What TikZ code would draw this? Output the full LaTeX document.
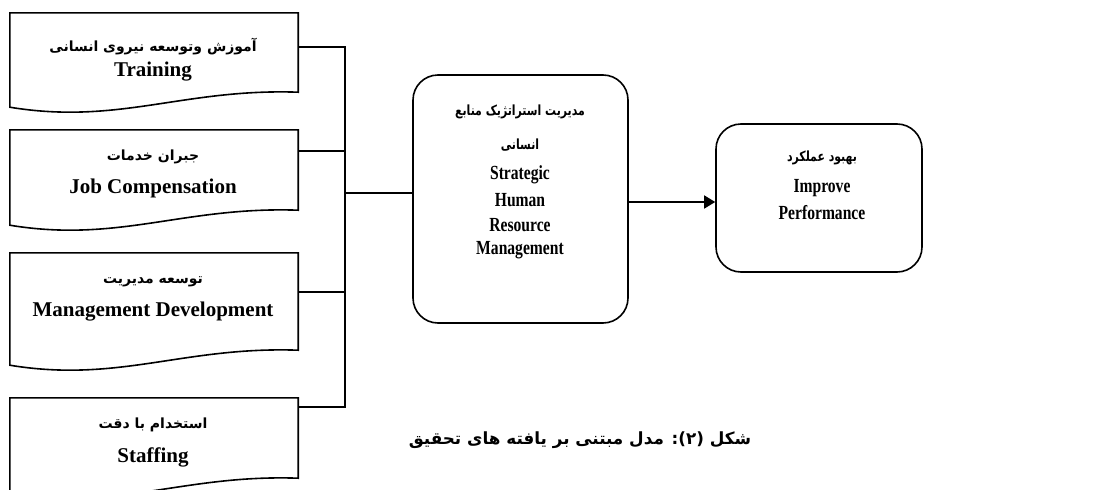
\documentclass[tikz,border=0pt]{standalone}
\usepackage{fontspec}
\setmainfont{Liberation Serif}
\newfontfamily\fafont[Script=Arabic]{DejaVu Sans}
\TeXXeTstate=1
\usetikzlibrary{arrows.meta}
\newcommand\squeezed[1]{\scalebox{0.78}[1]{#1}}
\begin{document}
\begin{tikzpicture}[x=1pt,y=-1pt,
  line/.style={line width=1.6pt, line join=miter},
  arrowline/.style={line width=1.6pt, -{Triangle[length=11pt,width=13pt]}},
  docnode/.style={minimum width=288pt, inner sep=0pt, draw=none},
  rbox/.style={draw, line width=1.6pt, rounded corners=25pt, inner sep=0pt},
  fa/.style={font=\fafont\bfseries\fontsize{14}{17}\selectfont, inner sep=0pt},
  en/.style={font=\bfseries\fontsize{21}{25}\selectfont, inner sep=0pt},
  ensq/.style={font=\bfseries\fontsize{20}{24}\selectfont, inner sep=0pt},
  captext/.style={font=\fafont\bfseries\fontsize{16.8}{20}\selectfont, inner sep=0pt}]
\useasboundingbox (0,0) rectangle (1104,490);

% document-shaped boxes
\foreach \n/\t/\r in {b1/13/92, b2/130/210, b3/253/350, b4/398/478}{
  \node[docnode, minimum height=\r-\t] (\n) at (154,{(\t+\r)/2}) {};
}
\foreach \n in {b1,b2,b3,b4}{
  \draw[line] ([yshift=-15pt]\n.south west) -- (\n.north west) -- (\n.north east) -- (\n.south east)
    .. controls ([shift={(-115pt,4pt)}]\n.south east) and ([shift={(109pt,-33pt)}]\n.south west) .. cycle;
}

% box texts
\node[fa] (f1) at (153,47) {\beginR آموزش وتوسعه نیروی انسانی\endR};
\node[en] (e1) at (153,72) {Training};
\node[fa] (f2) at (153,157) {\beginR جبران خدمات\endR};
\node[en] (e2) at (153,188) {Job Compensation};
\node[fa] (f3) at (153,282) {\beginR توسعه مدیریت\endR};
\node[en] (e3) at (153,312) {Management Development};
\node[fa] (f4) at (153,425) {\beginR استخدام با دقت\endR};
\node[en] (e4) at (153,457) {Staffing};

% central box
\node[rbox, minimum width=215pt, minimum height=248pt] (srhm) at (520.5,199) {};
\node[fa] (fs1) at (520,112) {\squeezed{\beginR مدیریت استراتژیک منابع\endR}};
\node[fa] (fs2) at (520,145) {\squeezed{\beginR انسانی\endR}};
\node[ensq] (es1) at (520,175) {\squeezed{Strategic}};
\node[ensq] (es2) at (520,200) {\squeezed{Human}};
\node[ensq] (es3) at (520,225) {\squeezed{Resource}};
\node[ensq] (es4) at (520,250) {\squeezed{Management}};

% right box
\node[rbox, minimum width=206pt, minimum height=148pt] (perf) at (819,198) {};
\node[fa] (fp) at (822,158) {\squeezed{\beginR بهبود عملکرد\endR}};
\node[ensq] (ep1) at (822,188) {\squeezed{Improve}};
\node[ensq] (ep2) at (822,213) {\squeezed{Performance}};

% connectors
\coordinate (j1) at (345,47);
\coordinate (j2) at (345,151);
\coordinate (j3) at (345,292);
\coordinate (j4) at (345,407);
\coordinate (jin) at (345,193);
\coordinate (ja) at (672,202);
\draw[line] (b1.east |- j1) -- (j1) -- (j4) -- (b4.east |- j4);
\draw[line] (b2.east |- j2) -- (j2);
\draw[line] (b3.east |- j3) -- (j3);
\draw[line] (jin) -- (srhm.west |- jin);
\draw[arrowline] (srhm.east |- ja) -- (perf.west |- ja);

% caption
\node[captext] (caption) at (580,440) {\beginR شکل (۲): مدل مبتنی بر یافته های تحقیق\endR};
\end{tikzpicture}
\end{document}
